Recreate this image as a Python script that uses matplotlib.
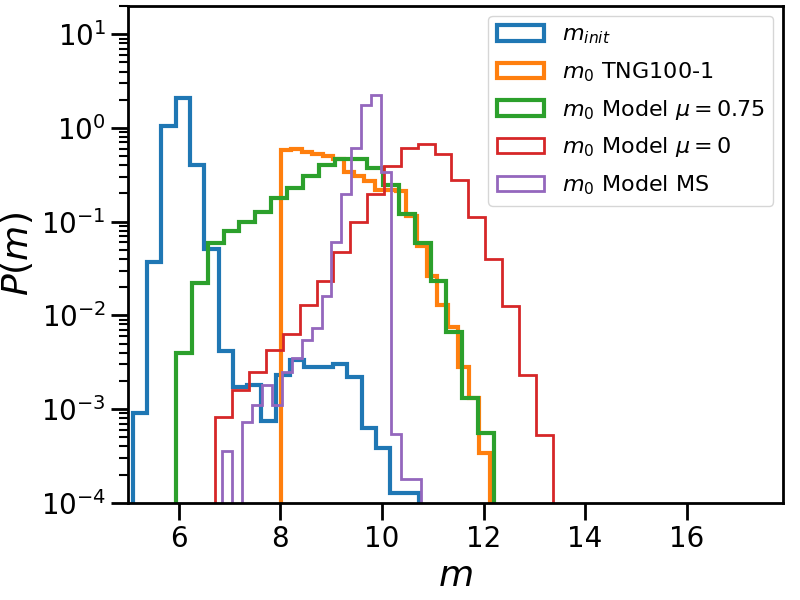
import matplotlib
matplotlib.use("Agg")
import matplotlib.pyplot as plt
import numpy as np

# bin ranges (20 bins each) and densities
init_range = (5.09, 10.73)
init_vals = [9e-4, 0.037, 1.06, 2.1, 0.40, 0.051, 0.0042, 0.0017, 0.0018, 7.5e-4,
             0.0023, 0.0033, 0.0028, 0.0028, 0.0030, 0.0022, 6.3e-4, 3.8e-4, 1.26e-4, 1.26e-4]

tng_range = (8.01, 12.12)
tng_vals = [0.58, 0.60, 0.56, 0.53, 0.50, 0.47, 0.34, 0.31, 0.27, 0.22,
            0.22, 0.21, 0.116, 0.055, 0.026, 0.013, 0.0075, 0.0028, 0.0013, 3.4e-4]

mu075_range = (5.94, 12.21)
mu075_vals = [0.0040, 0.022, 0.059, 0.080, 0.098, 0.126, 0.177, 0.23, 0.31, 0.40,
              0.47, 0.47, 0.37, 0.246, 0.12, 0.059, 0.023, 0.0067, 0.0013, 5.6e-4]

mu0_range = (6.72, 13.36)
mu0_vals = [8.3e-4, 0.0016, 0.0025, 0.0043, 0.0063, 0.013, 0.023, 0.048, 0.098, 0.197,
            0.39, 0.61, 0.67, 0.53, 0.28, 0.113, 0.040, 0.0126, 0.0023, 5.3e-4]

ms_range = (6.86, 10.76)
ms_vals = [3.6e-4, 0.0, 7.3e-4, 0.0011, 0.0018, 0.0011, 0.0025, 0.0035, 0.0054, 0.0073,
           0.016, 0.060, 0.197, 0.61, 1.76, 2.27, 0.34, 5.4e-4, 1.8e-4, 1.8e-4]

labels = [r"$m_{init}$", r"$m_0$ TNG100-1", r"$m_0$ Model $\mu=0.75$",
          r"$m_0$ Model $\mu=0$", r"$m_0$ Model MS"]

series = [(init_range, init_vals, "tab:blue", 3),
          (tng_range, tng_vals, "tab:orange", 3),
          (mu075_range, mu075_vals, "tab:green", 3),
          (mu0_range, mu0_vals, "tab:red", 2),
          (ms_range, ms_vals, "tab:purple", 2)]

fig = plt.figure(figsize=(8, 6), dpi=100)
ax = fig.add_subplot(1, 1, 1)
fig.subplots_adjust(left=0.16, right=0.979, top=0.99, bottom=0.162)

for (rng, vals, color, lw), label in zip(series, labels):
    edges = np.linspace(rng[0], rng[1], len(vals) + 1)
    ax.hist(edges[:-1], bins=edges, weights=vals, histtype="step",
            log=True, color=color, lw=lw, label=label)

ax.set_yscale("log")
ax.set_xlim(5, 17.9)
ax.set_ylim(1e-4, 20)
ax.set_xticks([6, 8, 10, 12, 14, 16])

ax.set_xlabel(r"$m$", fontsize=26)
ax.set_ylabel(r"$P(m)$", fontsize=26, labelpad=4)
ax.tick_params(which="major", labelsize=20, length=12.5, width=2)
ax.tick_params(which="minor", length=6.5, width=1.5)
for s in ax.spines.values():
    s.set_linewidth(2)

ax.legend(loc="upper right", fontsize=16, handlelength=2.1, labelspacing=0.62,
          borderaxespad=0.45)

plt.savefig("out.png", dpi=100)
